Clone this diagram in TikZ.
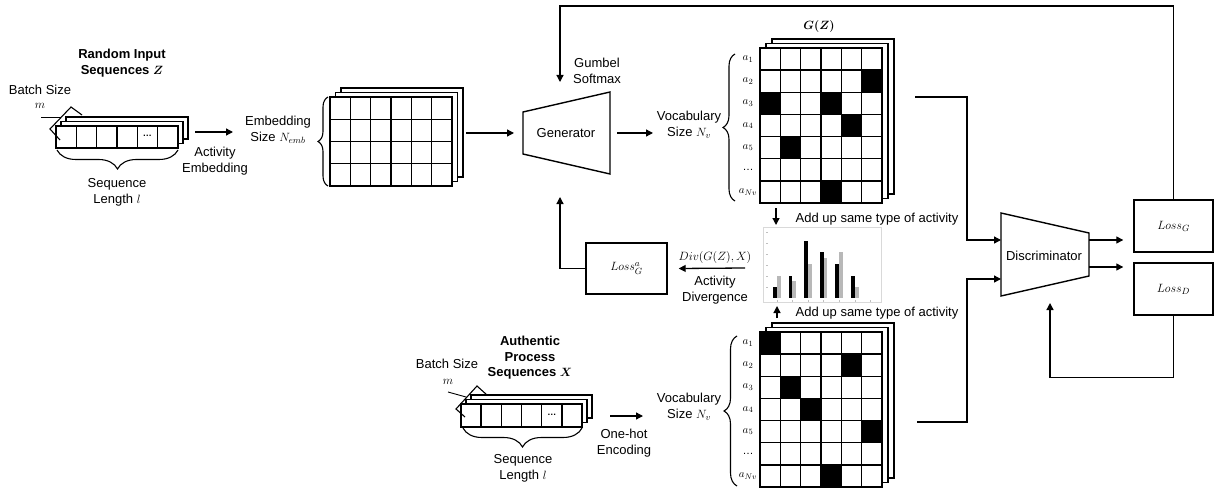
\documentclass[tikz,border=0pt]{standalone}
\usepackage{fontspec}
\setmainfont{Liberation Sans}
\usepackage{amsmath}
\usetikzlibrary{arrows.meta,decorations.pathreplacing}

\tikzset{
  gridline/.style={line width=1.4pt, draw=black},
  conn/.style={line width=1.3pt},
  arr/.style={conn, -{Triangle[length=7pt,width=7pt]}},
  lbl/.style={align=center, inner sep=0pt, font=\fontsize{13}{16}\selectfont},
  headtxt/.style={align=center, inner sep=0pt, font=\fontsize{13}{15.5}\selectfont\bfseries},
  rowlbl/.style={inner sep=0pt, font=\fontsize{11}{13}\selectfont},
  shapebox/.style={draw, line width=1.4pt},
  lossbox/.style={draw, line width=1.4pt, inner sep=0pt, font=\fontsize{13}{15}\selectfont},
  brc/.style={decorate, line width=1.1pt},
}

% stacked grid: name, x, y, cols, rows, cell width, cell height, layer shift, black cells (col/row)
\newcommand\stackgrid[9]{%
  \pgfmathsetmacro\gw{#4*#6}%
  \pgfmathsetmacro\gh{#5*#7}%
  \filldraw[gridline,fill=white] ({#2+2*#8},{#3-9}) rectangle ++(\gw,\gh);
  \filldraw[gridline,fill=white] ({#2+#8},{#3-4.5}) rectangle ++(\gw,\gh);
  \node[draw,gridline,fill=white,inner sep=0pt,outer sep=0pt,anchor=north west,
        minimum width=\gw pt,minimum height=\gh pt] (#1) at (#2,#3) {};
  \foreach \cc/\rr in {#9}{\ifnum\cc>0 \fill ({#2+(\cc-1)*#6},{#3+(\rr-1)*#7}) rectangle ++(#6,#7);\fi}
  \foreach \cc in {1,...,#4}{\draw[gridline] ({#2+\cc*#6},#3) -- ++(0,\gh);}
  \foreach \rr in {1,...,#5}{\draw[gridline] (#2,{#3+\rr*#7}) -- ++(\gw,0);}
}

\begin{document}
\begin{tikzpicture}[x=1pt,y=-1pt]
\useasboundingbox (0,0) rectangle (1214,489);

% ---------- random input sequences Z ----------
\node[headtxt] (zTitle) at (122,63) {Random Input\\Sequences $\boldsymbol{Z}$};
\node[lbl] (zBatch) at (40,90) {Batch Size};
\node[lbl] (zM) at (40,106) {$m$};
\stackgrid{seqZ}{56}{126}{6}{1}{20.33}{22}{5}{0/0}
\node[inner sep=0pt,font=\fontsize{9}{9}\selectfont\bfseries] (zDots) at (147.3,136) {\ldots};
\draw[conn,line width=1.1pt] (60,140) -- (50,129) -- (71,107) -- (82,115);
\draw[line width=0.9pt] (41,117) -- (61,117);
\draw[brc, decoration={brace,amplitude=19pt}] (178,150) -- (57,150);
\node[lbl] (zLen) at (117,192) {Sequence\\Length $l$};

\coordinate (zOut) at (195,132);
\coordinate (embIn) at (233,132);
\draw[arr] (zOut) -- (embIn);
\node[lbl] (actEmb) at (215,161) {Activity\\Embedding};

% ---------- embedding matrix ----------
\stackgrid{emb}{330}{97}{6}{4}{20.33}{22.25}{5.5}{0/0}
\draw[brc, decoration={brace,amplitude=10pt}] (328,186) -- (328,97);
\node[lbl] (embSize) at (278,130) {Embedding\\Size $N_{emb}$};

% ---------- generator ----------
\draw[shapebox] (523,112) -- (610,92) -- (610,174) -- (523,154) -- cycle;
\node[lbl] (gen) at (566,133) {Generator};
\node[lbl] (gumbel) at (597,71) {Gumbel\\Softmax};
\coordinate (embOut) at (466,133);
\coordinate (genIn) at (514,133);
\draw[arr] (embOut) -- (genIn);
\coordinate (genOut) at (617,133);
\coordinate (vocIn) at (653,133);
\draw[arr] (genOut) -- (vocIn);
\coordinate (genTop) at (560,82);
\coordinate (genBot) at (560,197);

% ---------- generated matrix G(Z) ----------
\node[inner sep=0pt,font=\fontsize{13}{15}\selectfont] (gzTitle) at (819,27) {$\boldsymbol{G(Z)}$};
\stackgrid{gz}{760}{48}{6}{7}{20.33}{22.14}{6}{6/2,1/3,4/3,5/4,2/5,4/7}
\node[lbl] (vocTop) at (689,125) {Vocabulary\\Size $N_v$};
\draw[brc, decoration={brace,amplitude=12pt}] (735,201) -- (735,54);
\foreach \i/\lab in {1/{$a_1$},2/{$a_2$},3/{$a_3$},4/{$a_4$},5/{$a_5$},6/{\ldots},7/{$a_{Nv}$}}
  \node[rowlbl] (gzRow\i) at (748,{48+(\i-0.5)*22.14}) {\lab};

% ---------- activity histogram ----------
\node[draw=black!15,line width=0.6pt,inner sep=0pt,anchor=north west,
      minimum width=118pt,minimum height=75pt] (chart) at (763,227) {};
\foreach \yy in {232,243,254,265,276,287}
  \draw[black!25,line width=0.5pt] (766,\yy) -- (768,\yy);
\foreach \k in {0,1,2,3,4,5,6}
  \draw[black!25,line width=0.5pt] ({776.8+15.6*\k},300) -- ++(0,2);
\foreach \k/\hb/\hg in {0/287/276,1/276/281,2/241/264,3/252/258,4/264/252,5/276/287}{
  \fill[black] ({773+15.6*\k},298) rectangle ++(3.7,{\hb-298});
  \fill[black!28] ({776.8+15.6*\k},298) rectangle ++(3.7,{\hg-298});
}
\node[lbl] (addTop) at (877,219) {Add up same type of activity};
\node[lbl] (addBot) at (877,313) {Add up same type of activity};
\coordinate (gzDown) at (776,208);
\coordinate (chartTop) at (776,225);
\draw[arr] (gzDown) -- (chartTop);
\coordinate (xUp) at (777,318);
\coordinate (chartBot) at (777,306);
\draw[arr] (xUp) -- (chartBot);

% ---------- activity divergence loss ----------
\node[lossbox,minimum width=81pt,minimum height=51pt] (lossGa) at (626.5,268.5) {$Loss_G^a$};
\node[inner sep=0pt,font=\fontsize{12}{14}\selectfont] (divTxt) at (715,257) {$Div(G(Z),X)$};
\node[lbl] (actDiv) at (715,290) {Activity\\Divergence};
\coordinate (chartOut) at (745,268);
\draw[arr] (chartOut) -- ([xshift=11pt]lossGa.east);
\draw[arr] (lossGa.west) -| (genBot);

% ---------- authentic sequences X ----------
\node[headtxt] (xTitle) at (530,358) {Authentic\\Process\\Sequences $\boldsymbol{X}$};
\node[lbl] (xBatch) at (447,364) {Batch Size};
\node[lbl] (xM) at (448,382) {$m$};
\stackgrid{seqX}{461}{404}{6}{1}{20.17}{23}{5}{0/0}
\node[inner sep=0pt,font=\fontsize{9}{9}\selectfont\bfseries] (xDots) at (551.8,414.5) {\ldots};
\draw[conn,line width=1.1pt] (465,417) -- (456,409) -- (477,386) -- (487,395);
\draw[line width=0.9pt] (448,392) -- (466,397);
\draw[brc, decoration={brace,amplitude=19pt}] (582,428) -- (463,428);
\node[lbl] (xLen) at (523,468) {Sequence\\Length $l$};
\coordinate (xOut) at (610,416);
\coordinate (ohIn) at (643,416);
\draw[arr] (xOut) -- (ohIn);
\node[lbl] (oneHot) at (624,443) {One-hot\\Encoding};

% ---------- one-hot matrix of X ----------
\stackgrid{xm}{760}{332}{6}{7}{20.33}{22.14}{6}{1/1,5/2,2/3,3/4,6/5,4/7}
\node[lbl] (vocBot) at (689,407) {Vocabulary\\Size $N_v$};
\draw[brc, decoration={brace,amplitude=13pt}] (737,486) -- (737,336);
\foreach \i/\lab in {1/{$a_1$},2/{$a_2$},3/{$a_3$},4/{$a_4$},5/{$a_5$},6/{\ldots},7/{$a_{Nv}$}}
  \node[rowlbl] (xmRow\i) at (748,{332+(\i-0.5)*22.14}) {\lab};

% ---------- discriminator ----------
\draw[shapebox] (1001,213) -- (1089,233) -- (1089,276) -- (1001,296) -- cycle;
\node[lbl] (disc) at (1044,256) {Discriminator};
\coordinate (discInA) at (1001,240);
\coordinate (discInB) at (1001,279);
\coordinate (discOutA) at (1089,240);
\coordinate (discOutB) at (1089,267);
\coordinate (discBot) at (1050,303);
\coordinate (gzOut) at (915,97);
\coordinate (xmOut) at (917,422);
\draw[arr] (gzOut) -| (967,240) -- (discInA);
\draw[arr] (xmOut) -| (967,279) -- (discInB);

% ---------- adversarial losses ----------
\node[lossbox,minimum width=79pt,minimum height=52pt] (lossG) at (1173.5,226) {$Loss_G$};
\node[lossbox,minimum width=79pt,minimum height=52pt] (lossD) at (1173.5,289) {$Loss_D$};
\draw[arr] (discOutA) -- ([xshift=-10pt]lossG.west |- discOutA);
\draw[arr] (discOutB) -- ([xshift=-10pt]lossD.west |- discOutB);
\draw[arr] (lossD.south) -- ++(0,62) -| (discBot);
\draw[arr] (lossG.north) |- (560,6) -- (genTop);

\end{tikzpicture}
\end{document}
